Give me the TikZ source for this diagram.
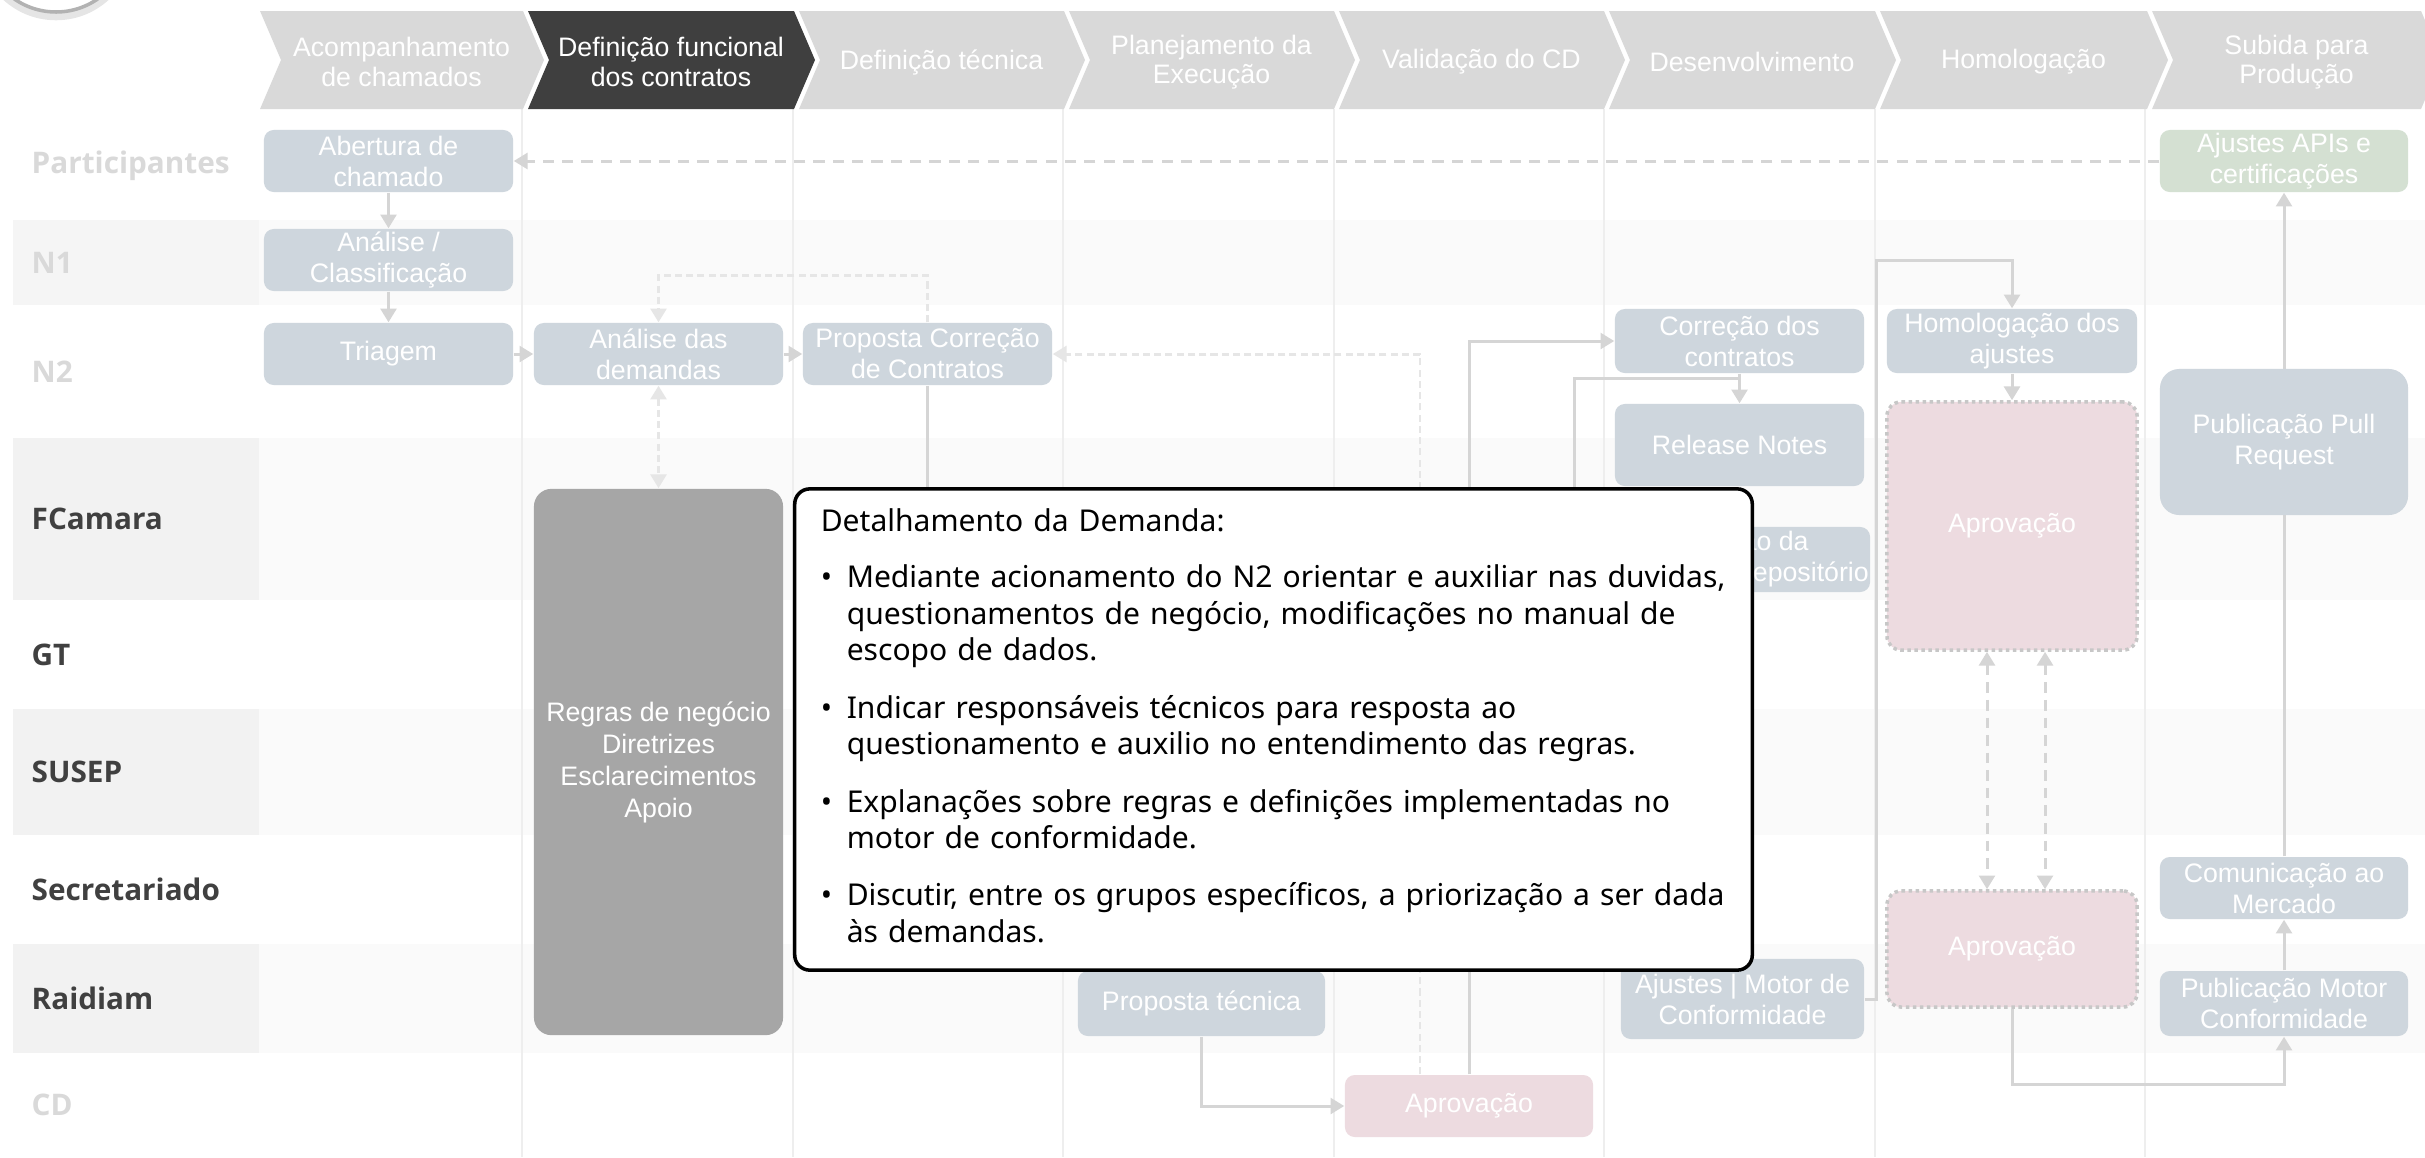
\documentclass[tikz,border=0pt]{standalone}
\usepackage{fontspec}
\setmainfont{Liberation Sans}
\newfontfamily\lanefont{Open Sans}
\newfontfamily\notefont{Noto Sans}
\usetikzlibrary{arrows.meta}
\definecolor{chevgray}{HTML}{D9D9D9}
\definecolor{chevdark}{HTML}{3F3F3F}
\definecolor{boxgray}{HTML}{CED6DD}
\definecolor{boxgreen}{HTML}{D4E0D2}
\definecolor{boxpink}{HTML}{EDDBE0}
\definecolor{rulegray}{HTML}{A6A6A6}
\definecolor{linegray}{HTML}{D5D5D5}
\definecolor{dashlight}{HTML}{E6E6E6}
\definecolor{lanedark}{HTML}{404040}
\definecolor{lanefade}{HTML}{D9D9D9}
\definecolor{bandgray}{HTML}{FAFAFA}
\definecolor{labelgray}{HTML}{F2F2F2}
\definecolor{colline}{HTML}{EEEEEE}
\pgfdeclarelayer{lanes}
\pgfdeclarelayer{links}
\pgfsetlayers{lanes,links,main}
\newcommand{\boxfont}{\fontsize{7.6}{8.8}\selectfont}
\newcommand{\phasefont}{\fontsize{7.6}{8.3}\selectfont}
\newcommand{\notesize}{\notefont\fontsize{8.55}{10.45}\selectfont}
\newcommand{\chev}[5]{\fill[#4] (#2,11) -- (#3,11) -- (#3+21,60) -- (#3,109) -- (#2,109) -- (#2+21,60) -- cycle; \node[phase] (#1) at ({(#2+#3)/2+10},62) {#5};}
\newcommand{\lane}[7]{\fill[#6] (13,#2) rectangle (2425,#3); \fill[#7] (13,#2) rectangle (259,#3); \node[lanelabel, text=#5] (#1) at (31,{(#2+#3)/2}) {#4};}
\tikzset{
  phase/.style={text=white, font=\phasefont, align=center, inner sep=0pt},
  lanelabel/.style={anchor=west, inner sep=0pt, font=\lanefont\bfseries\fontsize{8.45}{10}\selectfont},
  task/.style={rectangle, rounded corners=2.8pt, fill=boxgray, text=white, font=\boxfont, align=center, inner sep=0pt},
  approval/.style={task, fill=boxpink, draw=black!22, densely dotted, line width=1pt, rounded corners=4pt},
  rulebox/.style={task, fill=rulegray, rounded corners=5pt, font=\fontsize{7.6}{9.1}\selectfont},
  callout/.style={rectangle, rounded corners=4.3pt, draw=black, line width=1pt, fill=white, text width=9.05cm, inner xsep=0.26cm, minimum height=4.81cm, align=left, font=\notesize},
  flow/.style={draw=linegray, line width=0.85pt, -{Triangle[length=3.9pt,width=4.5pt]}},
  dflow/.style={flow, dash pattern=on 3.2pt off 2.3pt},
  lflow/.style={flow, draw=dashlight, dash pattern=on 2pt off 1.2pt},
  lboth/.style={lflow, {Triangle[length=3.9pt,width=4.5pt]}-{Triangle[length=3.9pt,width=4.5pt]}},
  dboth/.style={flow, dash pattern=on 3pt off 2pt, {Triangle[length=3.9pt,width=4.5pt]}-{Triangle[length=3.9pt,width=4.5pt]}}
}
\begin{document}
\begin{tikzpicture}[x=0.01cm, y=-0.01cm]
        \useasboundingbox (0,0) rectangle (2425,1157);
        \draw[black!10, line width=3pt] (56,-58) circle[radius=73];
        \draw[black!30, line width=1pt, fill=white] (56,-61) circle[radius=73];
        % lanes
        \begin{pgfonlayer}{lanes}
        \lane{part}{111}{220}{Participantes}{lanefade}{white}{white}
        \lane{n1}{220}{305}{N1}{lanefade}{bandgray}{black!4}
        \lane{n2}{305}{438}{N2}{lanefade}{white}{white}
        \lane{fcamara}{438}{600}{FCamara}{lanedark}{bandgray}{labelgray}
        \lane{gt}{600}{709}{GT}{lanedark}{white}{white}
        \lane{susep}{709}{835}{SUSEP}{lanedark}{bandgray}{labelgray}
        \lane{secret}{835}{944}{Secretariado}{lanedark}{white}{white}
        \lane{raidiam}{944}{1053}{Raidiam}{lanedark}{bandgray}{labelgray}
        \lane{cd}{1053}{1157}{CD}{lanefade}{white}{white}
        \foreach \cx in {522,793,1063,1334,1604,1875,2145}
          \draw[colline] (\cx,109) -- (\cx,1157);
        \end{pgfonlayer}
        % phases
        \chev{ph1}{260}{523}{chevgray}{Acompanhamento\\de chamados}
        \chev{ph2}{528}{794}{chevdark}{Definição funcional\\dos contratos}
        \chev{ph3}{799}{1064}{chevgray}{Definição técnica}
        \chev{ph4}{1069}{1334}{chevgray}{Planejamento da\\Execução}
        \chev{ph5}{1339}{1604}{chevgray}{Validação do CD}
        \chev{ph6}{1609}{1875}{chevgray}{Desenvolvimento}
        \chev{ph7}{1880}{2147}{chevgray}{Homologação}
        \chev{ph8}{2152}{2421}{chevgray}{Subida para\\Produção}
        % participantes
        \node[task, minimum width=2.49cm, minimum height=0.62cm] (abertura) at (388.5,161) {Abertura de\\chamado};
        \node[task, fill=boxgreen, minimum width=2.48cm, minimum height=0.62cm] (apis) at (2284,161) {Ajustes APIs e\\certificações};
        % N1
        \node[task, minimum width=2.49cm, minimum height=0.62cm] (classif) at (388.5,260) {Análise /\\Classificação};
        % N2
        \node[task, minimum width=2.49cm, minimum height=0.62cm] (triagem) at (388.5,354) {Triagem};
        \node[task, minimum width=2.49cm, minimum height=0.62cm] (analise) at (658.5,354) {Análise das\\demandas};
        \node[task, minimum width=2.49cm, minimum height=0.62cm] (propcor) at (927.5,354) {Proposta Correção\\de Contratos};
        \node[task, minimum width=2.49cm, minimum height=0.64cm] (correcao) at (1739.5,341) {Correção dos\\contratos};
        \node[task, minimum width=2.50cm, minimum height=0.64cm] (homolog) at (2012,341) {Homologação dos\\ajustes};
        % FCamara
        \node[task, minimum width=2.49cm, minimum height=0.82cm] (release) at (1739.5,445) {Release Notes};
        \node[task, minimum width=2.52cm, minimum height=0.65cm] (repo) at (1744,559.5) {Criação da\\versão no repositório};
        \node[approval, minimum width=2.50cm, minimum height=2.48cm] (aprovA) at (2012,526) {Aprovação};
        \node[task, rounded corners=5.5pt, minimum width=2.48cm, minimum height=1.46cm] (pull) at (2284,442) {Publicação Pull\\Request};
        \node[rulebox, minimum width=2.49cm, minimum height=5.46cm] (regras) at (658.5,762) {Regras de negócio\\Diretrizes\\Esclarecimentos\\Apoio};
        % secretariado
        \node[task, minimum width=2.48cm, minimum height=0.62cm] (comunic) at (2284,888) {Comunicação ao\\Mercado};
        \node[approval, minimum width=2.50cm, minimum height=1.16cm] (aprovB) at (2012,949) {Aprovação};
        % raidiam
        \node[task, minimum width=2.47cm, minimum height=0.65cm] (proptec) at (1201.5,1003.5) {Proposta técnica};
        \node[task, minimum width=2.43cm, minimum height=0.80cm] (ajmotor) at (1742.5,999) {Ajustes | Motor de\\Conformidade};
        \node[task, minimum width=2.48cm, minimum height=0.65cm] (pubmotor) at (2284,1003.5) {Publicação Motor\\Conformidade};
        % CD
        \node[task, fill=boxpink, minimum width=2.48cm, minimum height=0.62cm] (aprovcd) at (1469,1106) {Aprovação};
        % connectors
        \begin{pgfonlayer}{links}
        \draw[flow] (abertura) -- (classif);
        \draw[flow] (classif) -- (triagem);
        \draw[flow] (triagem) -- (analise);
        \draw[flow] (analise) -- (propcor);
        \draw[dflow] (apis) -- (abertura);
        \draw[lflow] (propcor.north) -- ++(0,-47) -| (analise.north);
        \draw[lboth] (analise) -- (regras);
        \draw[flow] (propcor.south) -- ++(0,555) -| (proptec.north);
        \draw[flow] (proptec.south) |- (aprovcd.west);
        \draw[lflow] ([xshift=-0.49cm]aprovcd.north) |- (propcor.east);
        \draw[flow] (aprovcd.north) |- (correcao.west);
        \draw[flow] (correcao) -- (release);
        \draw[flow] (correcao.south) -- ++(0,5) -- ++(-165.5,0) |- (repo.west);
        \draw[flow] (ajmotor.east) -- ++(12,0) |- ([yshift=0.48cm]homolog.north) -- (homolog.north);
        \draw[flow] (homolog) -- (aprovA);
        \draw[dboth] ([xshift=-0.25cm]aprovA.south) -- ([xshift=-0.25cm]aprovB.north);
        \draw[dboth] ([xshift=0.33cm]aprovA.south) -- ([xshift=0.33cm]aprovB.north);
        \draw[flow] (aprovB.south) -- ++(0,76) -| (pubmotor.south);
        \draw[flow] (pubmotor) -- (comunic);
        \draw[flow] (comunic) -- (apis);
        \end{pgfonlayer}
        % detalhamento
        \node[callout] (detail) at (1273.5,729.5) {%
          \begin{tabular}{@{}p{0.26cm}@{}l@{}}
          \multicolumn{2}{@{}l@{}}{Detalhamento da Demanda:}\\[5.6pt]
          • & Mediante acionamento do N2 orientar e auxiliar nas duvidas,\\
            & questionamentos de negócio, modificações no manual de\\
            & escopo de dados.\\[5.8pt]
          • & Indicar responsáveis técnicos para resposta ao\\
            & questionamento e auxilio no entendimento das regras.\\[5.8pt]
          • & Explanações sobre regras e definições implementadas no\\
            & motor de conformidade.\\[5.8pt]
          • & Discutir, entre os grupos específicos, a priorização a ser dada\\
            & às demandas.
          \end{tabular}};
    \end{tikzpicture}
\end{document}
